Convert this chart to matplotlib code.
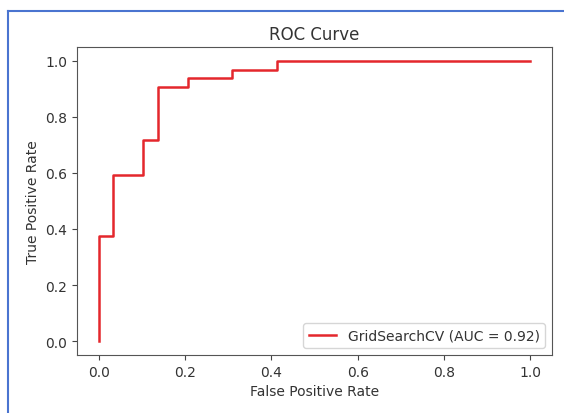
import matplotlib
matplotlib.use("Agg")
import matplotlib.pyplot as plt
from matplotlib.lines import Line2D

fpr = [0.0, 0.0, 0.034, 0.034, 0.103, 0.103, 0.138, 0.138, 0.207, 0.207, 0.310, 0.310, 0.414, 0.414, 1.0]
tpr = [0.0, 0.375, 0.375, 0.594, 0.594, 0.719, 0.719, 0.906, 0.906, 0.938, 0.938, 0.969, 0.969, 1.0, 1.0]
auc_value = 0.92
label = f"GridSearchCV (AUC = {auc_value:.2f})"
ticks = [0.0, 0.2, 0.4, 0.6, 0.8, 1.0]

W, H, DPI = 564, 414, 100
fig = plt.figure(figsize=(W / DPI, H / DPI), dpi=DPI)
ax = fig.add_axes([77 / W, 1 - 356 / H, (552 - 77) / W, (356 - 48) / H])

txt = "#333333"
ax.plot(fpr, tpr, color="#e4272c", lw=1.8, label=label)
ax.set_xticks(ticks)
ax.set_yticks(ticks)
ax.set_xlabel("False Positive Rate", color=txt)
ax.set_ylabel("True Positive Rate", color=txt)
ax.set_title("ROC Curve", color=txt)
ax.tick_params(colors="#444444", labelcolor=txt)
for s in ax.spines.values():
    s.set_color("#555555")
ax.legend(loc="lower right", labelcolor=txt)

# screenshot border
bc = "#4a74d0"
fig.add_artist(Line2D([8 / W, 8 / W], [1 - 12 / H, 0], transform=fig.transFigure, color=bc, lw=1.5))
fig.add_artist(Line2D([8 / W, 1], [1 - 12 / H, 1 - 12 / H], transform=fig.transFigure, color=bc, lw=1.5))

fig.savefig("out.png", dpi=DPI)
